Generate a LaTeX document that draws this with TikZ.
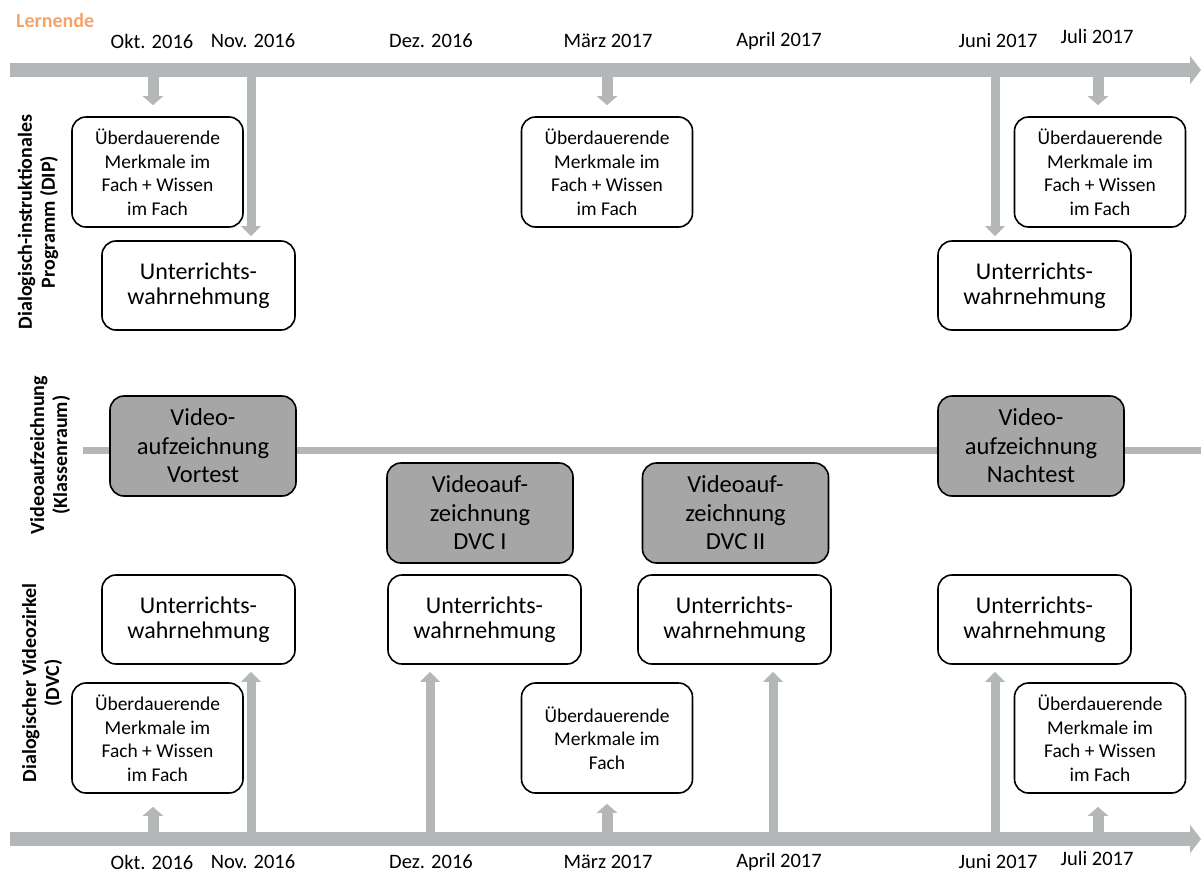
\documentclass[tikz,border=0pt]{standalone}
\usepackage{fontspec}
\setmainfont{Carlito}
\usetikzlibrary{arrows.meta}
\definecolor{barc}{RGB}{180,183,184}
\definecolor{vfill}{RGB}{166,166,166}
\definecolor{lern}{RGB}{247,163,103}
\begin{document}
\begin{tikzpicture}[x=1pt,y=-1pt,
  box/.style={draw=black, line width=1.6pt, rounded corners=14pt, align=center, inner sep=0pt},
  ubox/.style={box, minimum width=171pt, minimum height=110pt, font=\fontsize{19.5}{23.5}\selectfont},
  wbox/.style={box, minimum width=193pt, minimum height=89pt, font=\fontsize{24}{25}\selectfont},
  vbox/.style={box, fill=vfill, minimum width=186pt, minimum height=100pt, font=\fontsize{24.5}{28.5}\selectfont},
  datel/.style={font=\fontsize{20.5}{24}\selectfont, inner sep=0pt},
  bigbar/.style={draw=barc, line width=14pt, -{Triangle[width=28pt,length=11pt]}},
  larr/.style={draw=barc, line width=9pt, -{Triangle[width=19pt,length=10pt]}},
  sarr/.style={draw=barc, line width=11pt, -{Triangle[width=20pt,length=9pt]}},
  side/.style={rotate=90, align=center, inner sep=0pt, font=\bfseries\fontsize{20}{23}\selectfont},
  vline/.style={draw=barc, line width=7pt}
]
\useasboundingbox (0,0) rectangle (1201,873);

% header
\node[anchor=base west, inner sep=0pt, text=lern, font=\bfseries\fontsize{20}{24}\selectfont] (lern) at (16,27) {Lernende};

% bars
\coordinate (tl) at (10,70);
\coordinate (tr) at (1201,70);
\coordinate (bl) at (10,839);
\coordinate (br) at (1201,839);
\coordinate (vl) at (83,450);
\coordinate (vr) at (1201,450);
\draw[vline] (vl) -- (vr);

% top dates
\node[datel] (d1) at (152,41) {Okt. 2016};
\node[datel] (d2) at (253,41) {Nov. 2016};
\node[datel] (d3) at (431,41) {Dez. 2016};
\node[datel] (d4) at (608,41) {März 2017};
\node[datel] (d5) at (779,41) {April 2017};
\node[datel] (d6) at (998,41) {Juni 2017};
\node[datel] (d7) at (1097,36) {Juli 2017};
% bottom dates
\node[datel] (e1) at (152,862) {Okt. 2016};
\node[datel] (e2) at (253,862) {Nov. 2016};
\node[datel] (e3) at (431,862) {Dez. 2016};
\node[datel] (e4) at (608,862) {März 2017};
\node[datel] (e5) at (779,862) {April 2017};
\node[datel] (e6) at (998,862) {Juni 2017};
\node[datel] (e7) at (1097,858) {Juli 2017};

% side labels
\node[side] (s1) at (38,222) {Dialogisch-instruktionales\\Programm (DIP)};
\node[side] (s2) at (50,455) {Videoaufzeichnung\\(Klassenraum)};
\node[side] (s3) at (42,683) {Dialogischer Videozirkel\\(DVC)};

% DIP row
\node[ubox] (b1) at (157.5,172) {Überdauerende\\Merkmale im\\Fach + Wissen\\im Fach};
\node[ubox] (b2) at (607,172) {Überdauerende\\Merkmale im\\Fach + Wissen\\im Fach};
\node[ubox] (b3) at (1100,172) {Überdauerende\\Merkmale im\\Fach + Wissen\\im Fach};
\node[wbox] (u1) at (198.5,285.5) {Unterrichts-\\wahrnehmung};
\node[wbox] (u2) at (1034.5,285.5) {Unterrichts-\\wahrnehmung};

% video row
\node[vbox] (v1) at (203,446) {Video-\\aufzeichnung\\Vortest};
\node[vbox] (v2) at (480,513) {Videoauf-\\zeichnung\\DVC I};
\node[vbox] (v3) at (735.5,513) {Videoauf-\\zeichnung\\DVC II};
\node[vbox] (v4) at (1031,446) {Video-\\aufzeichnung\\Nachtest};

% DVC row
\node[wbox] (u3) at (198.5,619.5) {Unterrichts-\\wahrnehmung};
\node[wbox] (u4) at (484.5,619.5) {Unterrichts-\\wahrnehmung};
\node[wbox] (u5) at (734.5,619.5) {Unterrichts-\\wahrnehmung};
\node[wbox] (u6) at (1034.5,619.5) {Unterrichts-\\wahrnehmung};
\node[ubox] (b4) at (157.5,738) {Überdauerende\\Merkmale im\\Fach + Wissen\\im Fach};
\node[ubox] (b5) at (607,738) {Überdauerende\\Merkmale im\\Fach};
\node[ubox] (b6) at (1100,738) {Überdauerende\\Merkmale im\\Fach + Wissen\\im Fach};

% top arrows
\coordinate (t1) at (153,70);
\coordinate (t2) at (251,70);
\coordinate (t4) at (607,70);
\coordinate (t6) at (995,70);
\coordinate (t7) at (1098,70);
\draw[sarr, shorten >=11pt] (t1) -- (t1 |- b1.north);
\draw[larr, shorten >=4pt] (t2) -- (t2 |- u1.north);
\draw[sarr, shorten >=11pt] (t4) -- (t4 |- b2.north);
\draw[larr, shorten >=4pt] (t6) -- (t6 |- u2.north);
\draw[sarr, shorten >=11pt] (t7) -- (t7 |- b3.north);

% bottom arrows
\coordinate (c1) at (153,839);
\coordinate (c2) at (251,839);
\coordinate (c3) at (430,839);
\coordinate (c4) at (607,839);
\coordinate (c5) at (773,839);
\coordinate (c6) at (995,839);
\coordinate (c7) at (1098,839);
\draw[sarr, shorten >=13pt] (c1) -- (c1 |- b4.south);
\draw[larr, shorten >=7pt] (c2) -- (c2 |- u3.south);
\draw[larr, shorten >=7pt] (c3) -- (c3 |- u4.south);
\draw[sarr, shorten >=10pt] (c4) -- (c4 |- b5.south);
\draw[larr, shorten >=7pt] (c5) -- (c5 |- u5.south);
\draw[larr, shorten >=7pt] (c6) -- (c6 |- u6.south);
\draw[sarr, shorten >=13pt] (c7) -- (c7 |- b6.south);

\draw[bigbar] (tl) -- (tr);
\draw[bigbar] (bl) -- (br);
\end{tikzpicture}
\end{document}
